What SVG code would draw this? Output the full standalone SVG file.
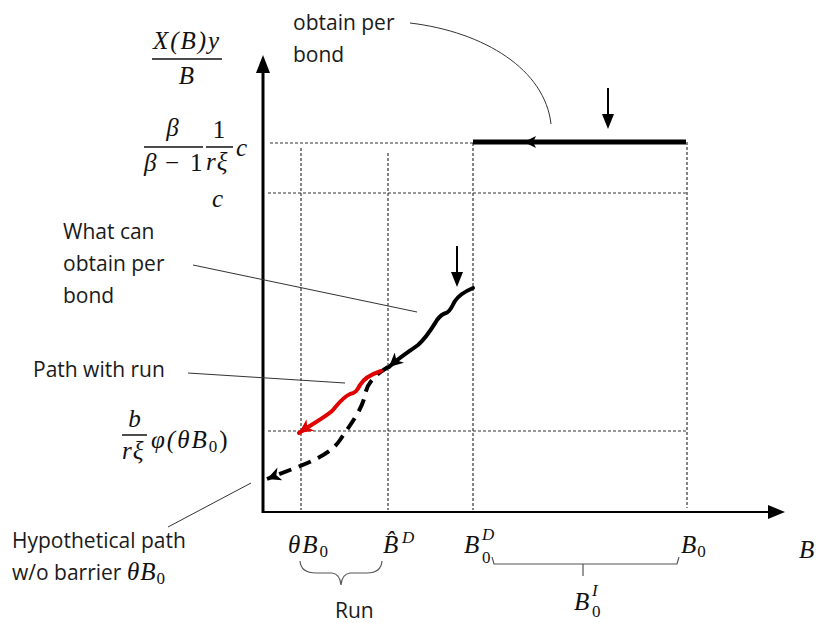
<svg xmlns="http://www.w3.org/2000/svg" width="816" height="623" viewBox="0 0 816 623">
<style>
.lbl{font-family:"Open Sans","Liberation Sans",sans-serif;font-size:21px;fill:#1a1a1a}
.m{font-family:"Liberation Serif","DejaVu Serif",serif;font-style:italic;font-size:25px;fill:#111;letter-spacing:1px}
.mu{font-family:"Liberation Serif","DejaVu Serif",serif;font-style:normal;font-size:25px;fill:#111}
.sub{font-family:"Liberation Serif","DejaVu Serif",serif;font-style:normal;font-size:17px;fill:#111}
.sup{font-family:"Liberation Serif","DejaVu Serif",serif;font-style:italic;font-size:17px;fill:#111}
.grid{stroke:#333;stroke-width:1.2;stroke-dasharray:3 2;fill:none}
.lead{stroke:#333;stroke-width:1;fill:none}
.bar{stroke:#111;stroke-width:1.5}
.brace{stroke:#555;stroke-width:1.2;fill:none}
</style>
<defs>
<marker id="head" markerUnits="userSpaceOnUse" markerWidth="16" markerHeight="14" refX="14" refY="7" orient="auto">
<path d="M0,0 L14,7 L0,14 L4,7 z" fill="#000"/>
</marker>
<marker id="headr" markerUnits="userSpaceOnUse" markerWidth="16" markerHeight="14" refX="14" refY="7" orient="auto">
<path d="M0,0 L14,7 L0,14 L4,7 z" fill="#e00000"/>
</marker>
</defs>

<g id="grid">
<line class="grid" x1="270" y1="143" x2="473" y2="143"/>
<line class="grid" x1="268" y1="193" x2="687" y2="193"/>
<line class="grid" x1="268" y1="431" x2="687" y2="431"/>
<line class="grid" x1="301" y1="148" x2="301" y2="510"/>
<line class="grid" x1="388" y1="153" x2="388" y2="510"/>
<line class="grid" x1="473" y1="143" x2="473" y2="510"/>
<line class="grid" x1="687" y1="142" x2="687" y2="508"/>
</g>

<g id="axes">
<line x1="263" y1="513" x2="263" y2="70" stroke="#000" stroke-width="3"/>
<polygon points="256,73 263,55 270,73" fill="#000"/>
<line x1="262" y1="512" x2="770" y2="512" stroke="#000" stroke-width="2.2"/>
<polygon points="768,505 785,512 768,519" fill="#000"/>
</g>

<g id="connectors">
<line x1="473" y1="142" x2="686" y2="142" stroke="#000" stroke-width="5"/>
<polygon points="524,142 536,136 533,142 536,148" fill="#000"/>
<line x1="608" y1="88" x2="608" y2="116" stroke="#000" stroke-width="2"/>
<polygon points="602,114 608,129 614,114" fill="#000"/>
<line x1="457" y1="246" x2="457" y2="274" stroke="#000" stroke-width="2"/>
<polygon points="451,272 457,287 463,272" fill="#000"/>
<path d="M 410 23 C 485 32, 545 70, 551 124" class="lead"/>
<path d="M 473 288 C 466 291, 459 295, 455 301 C 452 306, 450 312, 446 313 C 442 314, 440 316, 437 320 C 432 328, 427 337, 418 345 C 410 351, 400 357, 389 367" fill="none" stroke="#000" stroke-width="4" stroke-linecap="round" marker-end="url(#head)"/>
<path d="M 388 367 C 375 375, 367 383, 365 395 C 362 410, 350 425, 340 440 C 330 455, 310 462, 290 470 L 267 479" fill="none" stroke="#000" stroke-width="4" stroke-dasharray="13 8" marker-end="url(#head)"/>
<path d="M 381 371 C 372 374, 364 378, 360 385 C 357 391, 355 393, 350 394 C 343 397, 338 404, 332 411 C 324 418, 312 424, 299 433" fill="none" stroke="#e00000" stroke-width="4" stroke-linecap="round" marker-end="url(#headr)"/>
<line class="lead" x1="193" y1="265" x2="417" y2="312"/>
<line class="lead" x1="188" y1="373" x2="345" y2="383"/>
<line class="lead" x1="168" y1="527" x2="251" y2="483"/>
<path class="brace" d="M 300 561 Q 301 573 316 573 L 332 573 Q 340 574 341 585 Q 342 574 350 573 L 367 573 Q 381 573 382 561"/>
<path class="brace" d="M 492 557 L 494 564 L 677 564 L 679 557 M 583 564 L 583 576"/>
</g>

<g id="label-obtain">
<text class="lbl" x="293" y="30">obtain per</text>
<text class="lbl" x="293" y="62">bond</text>
</g>
<g id="label-what">
<text class="lbl" x="63" y="239">What can</text>
<text class="lbl" x="63" y="271">obtain per</text>
<text class="lbl" x="63" y="303">bond</text>
</g>
<g id="label-run-path">
<text class="lbl" x="33" y="377">Path with run</text>
</g>
<g id="label-hyp">
<text class="lbl" x="12" y="548">Hypothetical path</text>
<text class="lbl" x="12" y="580">w/o barrier</text>
<text class="m" x="127" y="580">θB<tspan class="sub" dy="4">0</tspan></text>
</g>
<g id="label-runbrace">
<text class="lbl" x="335" y="618">Run</text>
</g>

<g id="ylabel">
<text class="m" x="153" y="49" textLength="67" lengthAdjust="spacing">X(B)y</text>
<line class="bar" x1="152" y1="59" x2="222" y2="59"/>
<text class="m" x="187" y="84" text-anchor="middle">B</text>
</g>
<g id="ytick-top">
<text class="m" x="173" y="136" text-anchor="middle">β</text>
<line class="bar" x1="144" y1="147" x2="203" y2="147"/>
<text class="m" x="144" y="171">β</text>
<text class="mu" x="165" y="171">−</text>
<text class="mu" x="190" y="171">1</text>
<text class="mu" x="219" y="138" text-anchor="middle">1</text>
<line class="bar" x1="206" y1="147" x2="233" y2="147"/>
<text class="m" x="206" y="170">rξ</text>
<text class="m" x="236" y="156">c</text>
</g>
<g id="ytick-c">
<text class="m" x="212" y="207">c</text>
</g>
<g id="ytick-b">
<text class="m" x="135" y="427" text-anchor="middle">b</text>
<line class="bar" x1="122" y1="435" x2="147" y2="435"/>
<text class="m" x="122" y="459">rξ</text>
<text class="m" x="151" y="448" style="letter-spacing:2px">φ(θB<tspan class="sub" dy="4">0</tspan><tspan class="mu" dy="-4">)</tspan></text>
</g>

<g id="xticks">
<text class="m" x="288" y="553" style="letter-spacing:2px">θB<tspan class="sub" dy="4">0</tspan></text>
<text class="m" x="383" y="553">B̂</text>
<text class="sup" x="402" y="543">D</text>
<text class="m" x="464" y="553">B</text>
<text class="sup" x="482" y="540">D</text>
<text class="sub" x="482" y="563">0</text>
<text class="m" x="799" y="558">B</text>
<text class="m" x="681" y="553">B<tspan class="sub" dy="4">0</tspan></text>
<text class="m" x="574" y="610">B</text>
<text class="sup" x="592" y="596">I</text>
<text class="sub" x="592" y="617">0</text>
</g>
</svg>
